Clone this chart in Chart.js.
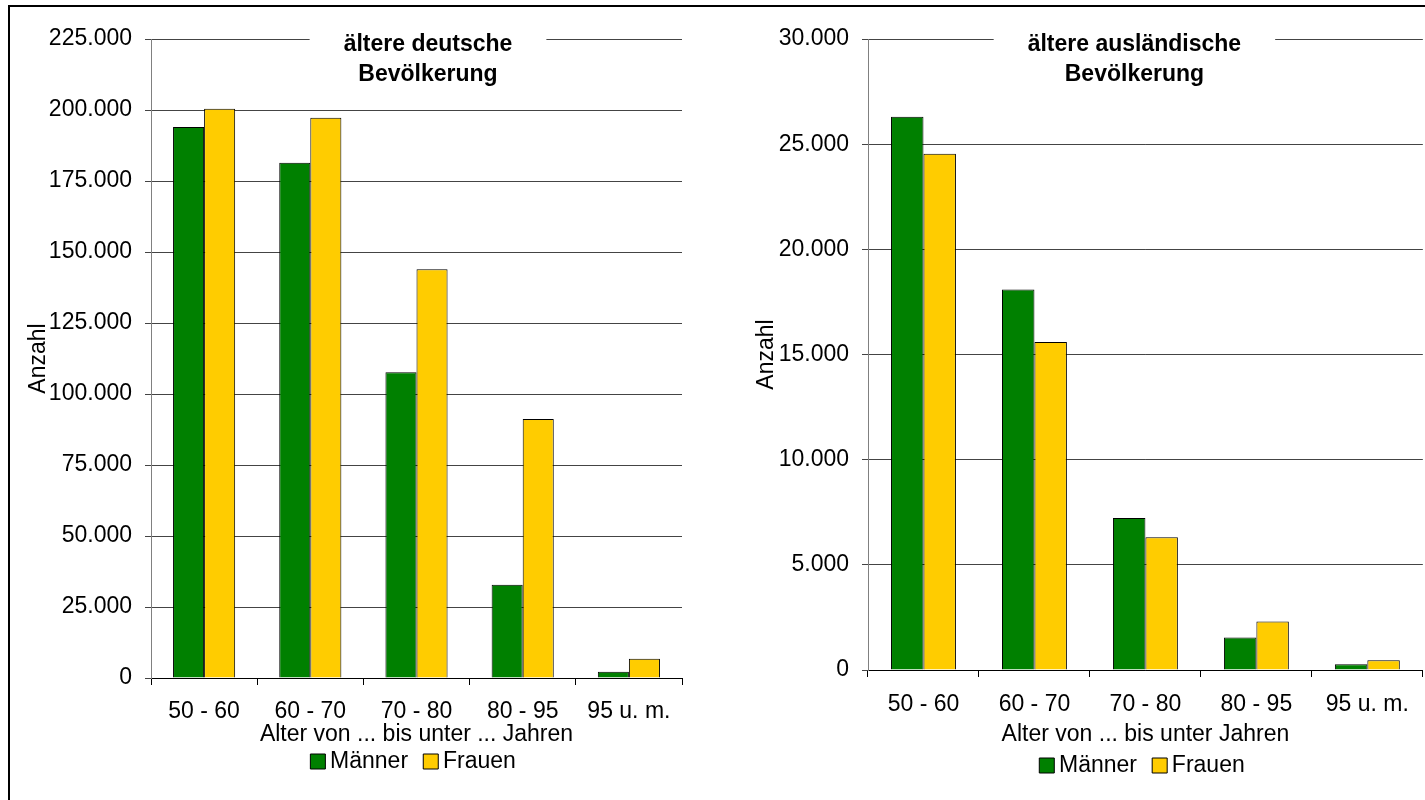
<!DOCTYPE html>
<html lang="de">
<head>
<meta charset="utf-8">
<title>Ältere Bevölkerung</title>
<script src="https://cdn.jsdelivr.net/npm/chart.js@4/dist/chart.umd.min.js"></script>
<style>
  html, body { margin: 0; padding: 0; background: #fff; overflow: hidden; }
  body { width: 1425px; height: 800px; position: relative; }
  #frame { position: absolute; left: 8px; top: 5px; width: 2000px; height: 2000px; border: 2px solid #000; box-sizing: border-box; }
  canvas { position: absolute; top: 0; }
  #c1 { left: 0; }
  #c2 { left: 727px; }
</style>
</head>
<body>
<div id="frame"></div>
<canvas id="c1" width="727" height="800"></canvas>
<canvas id="c2" width="698" height="800"></canvas>
<script>
// ---- data ----
const categories = ['50 - 60', '60 - 70', '70 - 80', '80 - 95', '95 u. m.'];
const seriesNames = ['Männer', 'Frauen'];
const deutschMaenner = [194000, 181400, 107700, 32800, 2200];
const deutschFrauen  = [200400, 197300, 143900, 91200, 6800];
const auslMaenner    = [26300, 18090, 7230, 1550, 270];
const auslFrauen     = [24550, 15590, 6310, 2310, 460];
const titleLeft  = ['ältere deutsche', 'Bevölkerung'];
const titleRight = ['ältere ausländische', 'Bevölkerung'];
const xTitleLeft  = 'Alter von ... bis unter ... Jahren';
const xTitleRight = 'Alter von ... bis unter Jahren';
const yTitle = 'Anzahl';
const yMaxLeft = 225000, yStepLeft = 25000;
const yMaxRight = 30000, yStepRight = 5000;

// ---- styling ----
const GREEN = '#008000', YELLOW = '#FFCC00';
const FONT = "'Liberation Sans', Arial, sans-serif";
Chart.defaults.font.family = FONT;
Chart.defaults.font.size = 23;
Chart.defaults.color = '#000';

function fmt(v) {
  return String(v).replace(/\B(?=(\d{3})+(?!\d))/g, '.');
}

const boxTitle = {
  id: 'boxTitle',
  afterDraw(chart, args, opts) {
    const ctx = chart.ctx, ca = chart.chartArea;
    ctx.save();
    ctx.font = 'bold 23px ' + FONT;
    const cx = ca.left + ca.width / 2 + opts.dx;
    let w = 0;
    opts.lines.forEach(l => { w = Math.max(w, ctx.measureText(l).width); });
    ctx.fillStyle = '#fff';
    ctx.fillRect(cx - w / 2 - opts.pad, ca.top - 12, w + 2 * opts.pad, 66);
    ctx.fillStyle = '#000';
    ctx.textAlign = 'center';
    ctx.textBaseline = 'alphabetic';
    opts.lines.forEach((l, i) => ctx.fillText(l, cx, ca.top + 12 + i * 30));
    ctx.restore();
  }
};

function makeChart(id, m, f, yMax, yStep, xTitle, title, cfg) {
  return new Chart(document.getElementById(id), {
    type: 'bar',
    data: {
      labels: categories,
      datasets: [
        { label: seriesNames[0], data: m, backgroundColor: GREEN, borderColor: '#000', borderWidth: 1 },
        { label: seriesNames[1], data: f, backgroundColor: YELLOW, borderColor: '#000', borderWidth: 1 }
      ]
    },
    options: {
      responsive: false,
      animation: false,
      devicePixelRatio: 1,
      categoryPercentage: 0.585,
      barPercentage: 1.0,
      layout: { padding: cfg.padding },
      scales: {
        x: {
          offset: true,
          grid: { offset: true, drawOnChartArea: false, drawTicks: true, tickLength: 7, color: '#000' },
          border: { color: '#000', width: 1 },
          ticks: { autoSkip: false, maxRotation: 0, padding: cfg.xPad, font: { size: 23, lineHeight: 1 } },
          title: { display: true, text: xTitle, font: { size: 23, lineHeight: 1 }, padding: cfg.xTitlePad }
        },
        y: {
          min: 0, max: yMax,
          grid: { color: '#444', lineWidth: 1, tickLength: 6, drawTicks: true },
          border: { color: '#808080', width: 1 },
          ticks: { stepSize: yStep, padding: 13, callback: v => fmt(v), font: { size: 23, lineHeight: 1 } },
          title: { display: true, text: yTitle, font: { size: 23, lineHeight: 1 }, padding: { top: 7, bottom: 0 } },
          afterFit: s => { s.width = cfg.yWidth; }
        }
      },
      plugins: {
        legend: {
          position: 'bottom',
          fullSize: false,
          labels: {
            usePointStyle: true, pointStyle: 'rect',
            boxWidth: 1.4, boxHeight: 15, padding: 22,
            font: { size: 23 }, color: '#000'
          }
        },
        tooltip: { enabled: false },
        boxTitle: { lines: title, dx: cfg.titleDx, pad: 34 }
      }
    },
    plugins: [boxTitle]
  });
}

makeChart('c1', deutschMaenner, deutschFrauen, yMaxLeft, yStepLeft, xTitleLeft, titleLeft, {
  padding: { left: 20, right: 45, top: 39, bottom: 17 },
  yWidth: 131, xPad: 15, xTitlePad: { top: -14.5, bottom: -18.5 }, titleDx: 11.5
});
makeChart('c2', auslMaenner, auslFrauen, yMaxRight, yStepRight, xTitleRight, titleRight, {
  padding: { left: 21, right: 1, top: 39, bottom: 13 },
  yWidth: 120, xPad: 16, xTitlePad: { top: -9, bottom: -14 }, titleDx: -11
});
</script>
</body>
</html>
